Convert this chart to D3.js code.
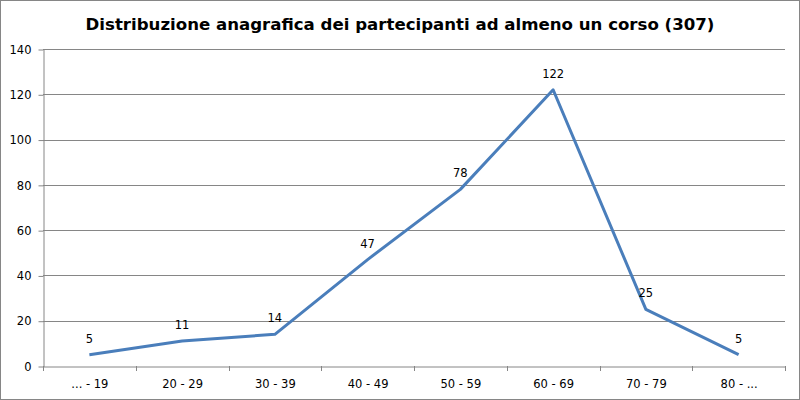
<!DOCTYPE html>
<html>
<head>
<meta charset="utf-8">
<script src="https://cdn.jsdelivr.net/npm/d3@7"></script>
<style>
  body { margin: 0; background: #fff; }
  svg { display: block; }
</style>
</head>
<body>
<svg id="chart" width="800" height="400"></svg>
<script>
const categories = ['... - 19', '20 - 29', '30 - 39', '40 - 49', '50 - 59', '60 - 69', '70 - 79', '80 - ...'];
const partecipanti = [5, 11, 14, 47, 78, 122, 25, 5];
const yTicks = [0, 20, 40, 60, 80, 100, 120, 140];

const svg = d3.select('#chart');
const font = 'DejaVu Sans, Verdana, sans-serif';

// outer border
svg.append('rect')
   .attr('x', 0.5).attr('y', 0.5)
   .attr('width', 799).attr('height', 399)
   .attr('fill', '#fff')
   .attr('stroke', '#868686');

const plotLeft = 43, plotRight = 785, plotTop = 49, plotBottom = 366;

const x = d3.scaleBand().domain(categories).range([plotLeft, plotRight]);
const y = d3.scaleLinear().domain([0, 140]).range([plotBottom, plotTop]);

// title
svg.append('text')
   .attr('x', 400).attr('y', 30)
   .attr('text-anchor', 'middle')
   .style('font-family', font)
   .style('font-size', '16.6px')
   .style('font-weight', 'bold')
   .text('Distribuzione anagrafica dei partecipanti ad almeno un corso (307)');

// gridlines
svg.append('g')
   .selectAll('line')
   .data(yTicks.filter((t) => t > 0))
   .enter()
   .append('line')
   .attr('x1', plotLeft).attr('x2', plotRight)
   .attr('y1', (t) => Math.round(y(t)) + 0.5)
   .attr('y2', (t) => Math.round(y(t)) + 0.5)
   .attr('stroke', '#868686');

// y axis
const yAxis = svg.append('g')
   .attr('transform', `translate(${plotLeft + 0.5},0.5)`)
   .call(d3.axisLeft(y).tickValues(yTicks).tickSize(5).tickPadding(7).tickSizeOuter(0));
yAxis.selectAll('path, line').attr('stroke', '#868686');
yAxis.selectAll('text').style('font-family', font).style('font-size', '11.5px').attr('fill', '#000');

// x axis
const xAxis = svg.append('g')
   .attr('transform', `translate(0.5,${plotBottom + 0.5})`)
   .call(d3.axisBottom(x).tickSize(0).tickPadding(13));
xAxis.select('path').attr('stroke', '#868686');
xAxis.selectAll('text').style('font-family', font).style('font-size', '11.5px').attr('fill', '#000');

// category boundary ticks
svg.append('g')
   .selectAll('line')
   .data(categories.concat(['end']))
   .enter()
   .append('line')
   .attr('x1', (d, i) => Math.round(plotLeft + i * x.step()) + 0.5)
   .attr('x2', (d, i) => Math.round(plotLeft + i * x.step()) + 0.5)
   .attr('y1', plotBottom)
   .attr('y2', plotBottom + 5)
   .attr('stroke', '#868686');

// line
const line = d3.line()
   .x((d, i) => x(categories[i]) + x.bandwidth() / 2)
   .y((d) => y(d));

svg.append('path')
   .datum(partecipanti)
   .attr('d', line)
   .attr('fill', 'none')
   .attr('stroke', '#4a7ebb')
   .attr('stroke-width', 3)
   .attr('stroke-linejoin', 'round');

// data labels
svg.append('g')
   .selectAll('text')
   .data(partecipanti)
   .enter()
   .append('text')
   .attr('x', (d, i) => x(categories[i]) + x.bandwidth() / 2)
   .attr('y', (d) => y(d) - 12)
   .attr('text-anchor', 'middle')
   .style('font-family', font)
   .style('font-size', '11.5px')
   .text((d) => d);
</script>
</body>
</html>
